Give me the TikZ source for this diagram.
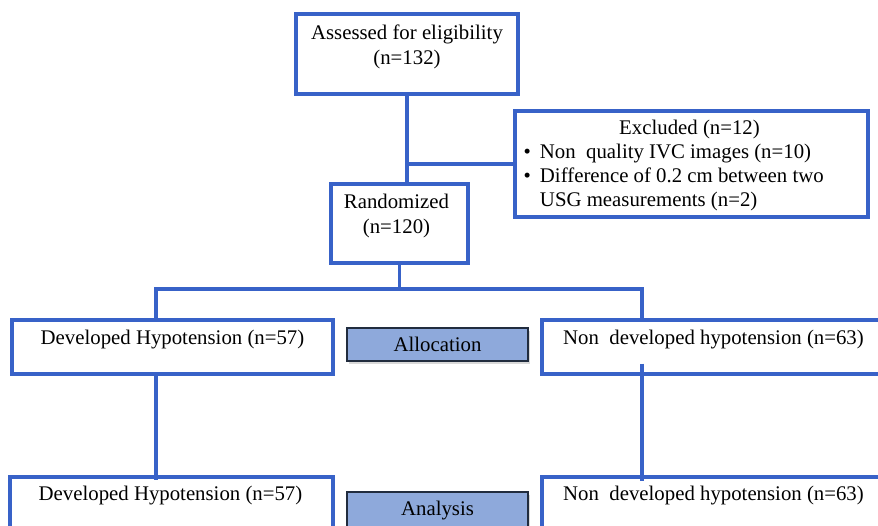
\documentclass[tikz,border=0pt]{standalone}
\usepackage{fontspec}
\setmainfont{Liberation Serif}
\usetikzlibrary{shadows}
\definecolor{flowblue}{RGB}{56,98,200}
\definecolor{stagefill}{RGB}{142,169,219}
\definecolor{stageline}{RGB}{33,44,62}
\tikzset{
  box/.style={draw=flowblue, line width=3.2pt, rectangle, inner sep=0pt},
  boxtext/.style={inner sep=0pt, align=center},
  stage/.style={draw=stageline, line width=2.8pt, fill=stagefill, inner sep=0pt,
    drop shadow={shadow xshift=1.5pt, shadow yshift=-3pt, opacity=0.3}},
  link/.style={draw=flowblue, line width=3.2pt}
}
\begin{document}
\begin{tikzpicture}[x=1pt,y=-1pt,font=\fontsize{20.8}{25}\selectfont]
  \useasboundingbox (0,0) rectangle (878,526);
  \clip (0,0) rectangle (878,526);
  % boxes
  \node[box, minimum width=222pt, minimum height=80pt] (assess) at (407,54) {};
  \node[box, minimum width=353pt, minimum height=106pt] (excl) at (691.5,164) {};
  \node[box, minimum width=137pt, minimum height=79pt] (rand) at (399.5,223.5) {};
  \node[box, minimum width=321pt, minimum height=54pt] (devA) at (172.5,347) {};
  \node[box, minimum width=343pt, minimum height=54pt] (nondevA) at (713.5,347) {};
  \node[box, minimum width=323pt, minimum height=83pt] (devB) at (171.5,518.5) {};
  \node[box, minimum width=343pt, minimum height=83pt] (nondevB) at (713.5,518.5) {};
  \node[stage, minimum width=181pt, minimum height=33pt] (alloc) at (437.5,344.5) {Allocation};
  \node[stage, minimum width=181pt, minimum height=40pt, text height=14pt, text depth=8pt] (analysis) at (437.5,512) {Analysis};
  % texts
  \node[boxtext, anchor=north] (assessTxt) at (407,24.7) {Assessed for eligibility\\(n=132)};
  \node[boxtext, anchor=north] (randTxt) at (396.5,194) {Randomized\\(n=120)};
  \node[boxtext, anchor=base] (exclTitle) at (689.5,135) {Excluded (n=12)};
  \node[inner sep=0pt, anchor=base west] (exclList) at (523.5,159) {\def\arraystretch{0.96}%
    \begin{tabular}[t]{@{}l@{\hspace{9pt}}l@{}}
      \textbullet & Non\ \ quality IVC images (n=10)\\
      \textbullet & Difference of 0.2 cm between two\\
      & USG measurements (n=2)
    \end{tabular}};
  \node[boxtext, anchor=base] (devAtxt) at (172.5,345) {Developed Hypotension (n=57)};
  \node[boxtext, anchor=base] (nondevAtxt) at (713.5,345) {Non\ \ developed hypotension (n=63)};
  \node[boxtext, anchor=base] (devBtxt) at (170.5,500) {Developed Hypotension (n=57)};
  \node[boxtext, anchor=base] (nondevBtxt) at (713.5,500) {Non\ \ developed hypotension (n=63)};
  % connectors
  \coordinate (split) at (399.5,289);
  \coordinate (lft) at (156,289);
  \coordinate (rgt) at (642,289);
  \draw[link] (assess.south) -- (assess.south |- rand.north);
  \draw[link] (assess.south |- excl.west) -- (excl.west);
  \draw[link] (rand.south) -- (split);
  \draw[link] (devA.north -| lft) -- (lft) -- (rgt) -- (nondevA.north -| rgt);
  \draw[link] (devA.south -| lft) -- ([yshift=-5pt]devB.north -| lft);
  \draw[link] ([yshift=12pt]nondevA.south -| rgt) -- ([yshift=-6pt]nondevB.north -| rgt);
\end{tikzpicture}
\end{document}
